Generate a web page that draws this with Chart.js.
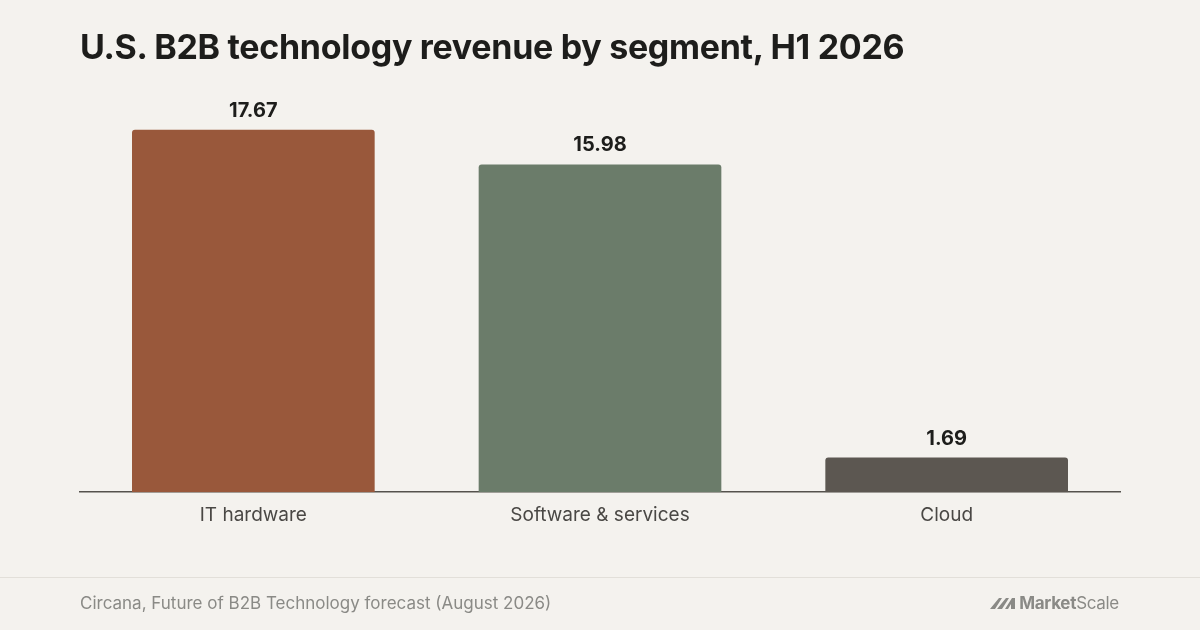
<!DOCTYPE html>
<html>
<head>
<meta charset="utf-8">
<script src="https://cdn.jsdelivr.net/npm/chart.js@4"></script>
<style>
  body { margin: 0; background: #f4f2ee; font-family: Inter, "Noto Sans", sans-serif; }
  #wrap { position: relative; width: 1200px; height: 630px; }
  h1 { position: absolute; left: 80px; top: 26px; margin: 0; font-size: 34px; font-weight: 700; color: #1d1d1b; letter-spacing: -0.3px; }
  #chart-box { position: absolute; left: 0; top: 0; width: 1200px; height: 630px; }
  #rule { position: absolute; left: 0; right: 0; top: 577px; border-top: 1px solid #e2dfd9; }
  #source { position: absolute; left: 80px; top: 593px; font-size: 17px; color: #8a8a86; }
  #logo { position: absolute; right: 81px; top: 593px; font-size: 17px; color: #8a8a86; display: flex; align-items: center; gap: 3px; letter-spacing: -0.3px; }
  #logo b { font-weight: 700; }
</style>
</head>
<body>
<div id="wrap">
  <div id="chart-box"><canvas id="c" width="1200" height="630"></canvas></div>
  <h1>U.S. B2B technology revenue by segment, H1 2026</h1>
  <div id="rule"></div>
  <div id="source">Circana, Future of B2B Technology forecast (August 2026)</div>
  <div id="logo">
    <svg width="26" height="12" viewBox="0 0 26 12"><path d="M0 12 L9 1 L12 1 L5 12 Z M7 12 L16 1 L19 1 L12 12 Z M15 12 L22 1 L25 1 L25 12 L21 12 L21 7 L18 12 Z" fill="#8a8a86"/></svg>
    <span><b>Market</b>Scale</span>
  </div>
</div>
<script>
// données
const categories = ['IT hardware', 'Software & services', 'Cloud'];
const revenue = [17.67, 15.98, 1.69];
const barColors = ['#99583b', '#6b7c6a', '#5c5751'];

// étiquettes de valeur au-dessus des barres
const valueLabels = {
  id: 'valueLabels',
  afterDatasetsDraw(chart) {
    const ctx = chart.ctx;
    const meta = chart.getDatasetMeta(0);
    ctx.save();
    ctx.font = '700 20px Inter, "Noto Sans", sans-serif';
    ctx.fillStyle = '#1d1d1b';
    ctx.textAlign = 'center';
    ctx.textBaseline = 'bottom';
    meta.data.forEach((bar, i) => {
      ctx.fillText(revenue[i].toFixed(2), bar.x, bar.y - 9);
    });
    ctx.restore();
  }
};

new Chart(document.getElementById('c'), {
  type: 'bar',
  data: {
    labels: categories,
    datasets: [{
      data: revenue,
      backgroundColor: barColors,
      borderRadius: { topLeft: 3, topRight: 3 },
      borderSkipped: 'bottom',
      categoryPercentage: 1,
      barPercentage: 0.7
    }]
  },
  options: {
    responsive: false,
    animation: false,
    layout: { padding: { left: 80, right: 80, top: 82, bottom: 99 } },
    plugins: { legend: { display: false }, tooltip: { enabled: false } },
    scales: {
      x: {
        grid: { display: false },
        border: { color: '#55524d', width: 1.5 },
        ticks: { color: '#4a4845', font: { size: 19, family: 'Inter, "Noto Sans", sans-serif' }, padding: 4 }
      },
      y: { display: false, min: 0, max: 20 }
    }
  },
  plugins: [valueLabels]
});
</script>
</body>
</html>
